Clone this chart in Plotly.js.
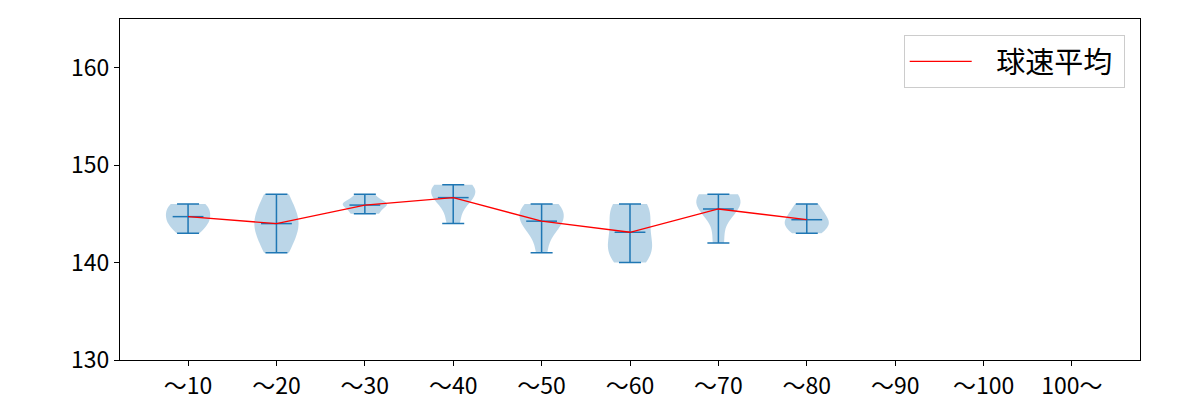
<!DOCTYPE html>
<html>
<head>
<meta charset="utf-8">
<script src="https://cdn.plot.ly/plotly-3.0.1.min.js"></script>
<style>html,body{margin:0;padding:0;background:#fff;}#chart{width:1200px;height:400px;}</style>
</head>
<body>
<div id="chart"></div>
<script>
const categories = ["〜10","〜20","〜30","〜40","〜50","〜60","〜70","〜80","〜90","〜100","100〜"];
const s1 = [143,144,145,145,146,146,144];
const s2 = [141,143,144,145,147];
const s3 = [145,145,145,146,146,146,146,146,147,147];
const s4 = [144,146,147,147,148,148];
const s5 = [141,143,144,145,146,145,146,144];
const s6 = [140,141,142,143,144,145,146,141,146];
const s7 = [142,145,146,146,147,147];
const s8 = [143,144,145,146,144];
const samples = [s1,s2,s3,s4,s5,s6,s7,s8];
const legendName = "球速平均";

const blue = "#1f77b4";
const font = "'Noto Sans CJK JP', 'Noto Sans', sans-serif";
const positions = categories.map((_, i) => i + 1);

function mean(a){return a.reduce((p,c)=>p+c,0)/a.length;}
function scottBw(a){
  const m = mean(a);
  const v = a.reduce((p,c)=>p+(c-m)*(c-m),0)/(a.length-1);
  return Math.sqrt(v)*Math.pow(a.length,-0.2);
}

const traces = [];
samples.forEach((s, i) => {
  traces.push({
    type: "violin",
    x: s.map(() => positions[i]),
    y: s,
    width: 0.5,
    scalemode: "width",
    spanmode: "hard",
    bandwidth: scottBw(s),
    points: false,
    box: {visible: false},
    meanline: {visible: false},
    fillcolor: "rgba(31,119,180,0.3)",
    line: {color: "rgba(31,119,180,0)", width: 0},
    showlegend: false,
    hoverinfo: "skip"
  });
});

const means = samples.map(mean);
const mins = samples.map(s => Math.min(...s));
const maxs = samples.map(s => Math.max(...s));
const pos8 = positions.slice(0, samples.length);

traces.push({
  type: "scatter",
  mode: "markers",
  x: pos8,
  y: means,
  marker: {symbol: "line-ew", size: 22, line: {color: blue, width: 1.5}, color: blue},
  error_y: {type: "data", symmetric: false,
    array: maxs.map((m, i) => m - means[i]),
    arrayminus: mins.map((m, i) => means[i] - m),
    color: blue, thickness: 1.5, width: 11},
  showlegend: false,
  hoverinfo: "skip"
});

traces.push({
  type: "scatter",
  mode: "lines",
  x: pos8,
  y: means,
  name: "\u00a0\u00a0\u00a0" + legendName + "\u00a0",
  line: {color: "red", width: 1.3},
  showlegend: true
});

const layout = {
  width: 1200, height: 400,
  margin: {l: 120, r: 60, t: 19, b: 40},
  paper_bgcolor: "#fff", plot_bgcolor: "#fff",
  font: {family: font, size: 22, color: "#000"},
  showlegend: true,
  xaxis: {
    range: [0.23, 11.77],
    tickmode: "array", tickvals: positions, ticktext: categories,
    ticks: "outside", ticklen: 5, tickwidth: 1, tickcolor: "#000",
    showgrid: false, zeroline: false,
    showline: true, mirror: true, linecolor: "#000", linewidth: 1,
    tickfont: {family: font, size: 23}
  },
  yaxis: {
    range: [130, 165],
    tickmode: "array", tickvals: [130,140,150,160],
    ticks: "outside", ticklen: 5, tickwidth: 1, tickcolor: "#000",
    showgrid: false, zeroline: false,
    showline: true, mirror: true, linecolor: "#000", linewidth: 1,
    tickfont: {family: font, size: 23}
  },
  legend: {
    x: 0.985, y: 0.953, xanchor: "right", yanchor: "top",
    bgcolor: "rgba(255,255,255,0.8)", bordercolor: "#cccccc", borderwidth: 1,
    itemwidth: 62,
    font: {family: font, size: 29}
  }
};

Plotly.newPlot("chart", traces, layout, {staticPlot: true});
</script>
</body>
</html>
